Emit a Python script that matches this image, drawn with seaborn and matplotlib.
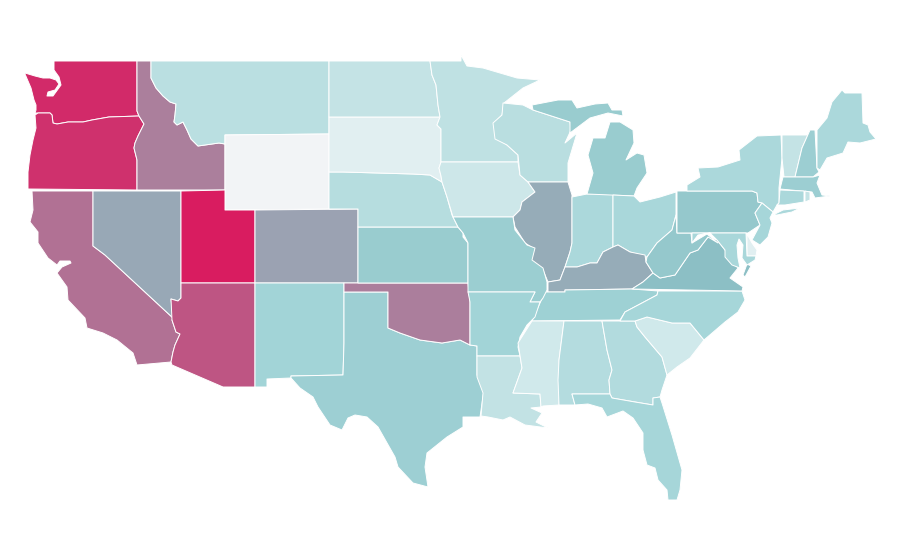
import matplotlib
matplotlib.use('Agg')
import matplotlib.pyplot as plt
from matplotlib.collections import PolyCollection
import seaborn as sns

# values per state, 0 to 1
states = ['WA','OR','ID','MT','WY','CA','NV','UT','AZ','CO','NM','TX','OK','KS','NE','SD','ND','MN','IA',
          'WI','IL','IN','MI','MIU','OH','KY','TN','MO','AR','LA','MS','AL','GA','SC','NC','FL','VA','VAE','WV',
          'PA','NY','LI','NJ','VT','NH','ME','MA','CT','RI','DE','MD']
values = [.955,.935,.70,.27,0,.74,.58,1,.825,.60,.38,.41,.705,.43,.29,.083,.23,.25,.18,
          .28,.57,.34,.43,.43,.35,.57,.40,.42,.38,.235,.167,.30,.31,.167,.36,.36,.5,.5,.45,
          .45,.34,.34,.36,.23,.415,.34,.415,.34,.23,.083,.35]
scale_colors = ['#F2F4F6', '#D8ECEE', '#BFE1E3', '#A3D5D8', '#8CC0C5', '#9F9BAD', '#B26E92', '#C64579', '#D91C60']

# state outlines, in pixels
outlines = {
 'WA': [(54,61),(137,61),(137,111),(139,116),(109,117),(92,120),(83,122),(68,122),(57,124),(53,123),(52,115),(50,113),(38,113),(35,113),(36,110),(36,105),(34,100),(31,88),(25,74),(25,73),(35,76),(43,78),(50,78),(56,80),(59,84),(55,90),(48,92),(47,96),(53,96),(61,85),(59,77),(54,70)],
 'OR': [(35,115),(38,113),(50,113),(52,115),(53,123),(57,124),(68,122),(83,122),(92,120),(109,117),(139,116),(144,124),(138,136),(135,143),(134,148),(137,160),(137,190),(28,189),(28,172),(30,155),(33,140),(36,128)],
 'ID': [(137,61),(151,61),(151,78),(156,88),(163,96),(170,102),(176,104),(175,115),(174,122),(177,125),(183,122),(187,130),(191,139),(198,146),(205,145),(219,143),(225,144),(225,190),(137,190),(137,160),(134,148),(135,143),(138,136),(144,124),(139,116),(137,111)],
 'MT': [(151,61),(329,61),(329,134),(225,135),(225,144),(219,143),(205,145),(198,146),(191,139),(187,130),(183,122),(177,125),(174,122),(175,115),(176,104),(170,102),(163,96),(156,88),(151,78)],
 'WY': [(225,135),(329,134),(329,209),(225,210)],
 'CA': [(32,191),(93,191),(93,246),(105,255),(173,318),(172,320),(176,332),(180,334),(175,345),(173,352),(171,362),(137,365),(133,353),(117,340),(103,333),(87,328),(85,318),(68,300),(67,287),(57,273),(62,267),(71,263),(70,261),(60,261),(57,265),(48,258),(38,243),(38,232),(30,222),(33,210)],
 'NV': [(93,191),(181,191),(181,298),(178,301),(171,299),(173,318),(105,255),(93,246)],
 'UT': [(181,191),(225,190),(225,210),(255,210),(255,283),(181,283)],
 'AZ': [(181,283),(255,283),(255,387),(223,387),(172,365),(171,362),(173,352),(175,345),(180,334),(176,332),(172,320),(171,299),(178,301),(181,298)],
 'CO': [(255,210),(358,209),(358,283),(255,283)],
 'NM': [(255,283),(344,283),(344,343),(343,375),(291,376),(291,378),(267,379),(267,387),(255,387)],
 'TX': [(344,292),(388,292),(388,328),(400,333),(420,340),(442,343),(460,340),(470,345),(477,346),(477,375),(484,390),(480,417),(463,417),(463,427),(447,437),(427,453),(425,467),(428,487),(413,483),(398,467),(395,457),(378,427),(367,417),(355,415),(348,418),(342,430),(330,425),(318,407),(313,397),(300,388),(291,378),(291,376),(343,375),(344,343)],
 'OK': [(344,283),(468,283),(470,302),(470,345),(460,340),(442,343),(420,340),(400,333),(388,328),(388,292),(344,292)],
 'KS': [(358,227),(458,227),(463,233),(463,237),(468,243),(468,283),(358,283)],
 'NE': [(329,172),(343,172),(413,174),(430,175),(442,182),(447,197),(452,215),(458,227),(358,227),(358,209),(329,209)],
 'SD': [(329,117),(440,117),(437,125),(441,129),(441,162),(439,168),(441,176),(442,182),(430,175),(413,174),(343,172),(329,172)],
 'ND': [(329,61),(430,61),(432,75),(436,85),(438,105),(440,117),(329,117)],
 'MN': [(430,61),(461,61),(461,55),(467,66),(483,68),(500,73),(517,78),(540,80),(523,88),(504,103),(502,115),(495,122),(497,138),(507,145),(518,155),(518,162),(441,162),(441,129),(437,125),(440,117),(438,105),(436,85),(432,75)],
 'IA': [(441,162),(518,162),(520,175),(528,182),(535,192),(522,202),(520,210),(513,217),(453,217),(447,197),(442,182),(441,176),(439,168)],
 'WI': [(503,103),(523,105),(533,110),(570,122),(571,130),(565,143),(577,133),(568,163),(568,182),(528,182),(520,175),(518,155),(507,145),(495,139),(493,123),(502,115)],
 'IL': [(528,182),(568,182),(572,195),(572,243),(570,252),(565,267),(560,280),(548,282),(543,270),(530,260),(533,248),(525,243),(515,227),(513,217),(520,210),(522,202),(535,192)],
 'IN': [(572,197),(587,194),(613,194),(613,247),(603,252),(597,263),(590,263),(577,267),(565,267),(570,252),(572,243)],
 'MI': [(587,194),(634,196),(637,188),(647,173),(644,155),(637,153),(626,160),(634,143),(633,130),(620,122),(610,122),(605,138),(593,138),(588,155),(593,173)],
 'MIU': [(532,105),(558,100),(572,100),(577,108),(595,104),(608,103),(612,110),(622,110),(623,116),(608,113),(590,118),(570,133),(570,122),(533,110)],
 'OH': [(613,195),(634,196),(640,202),(660,197),(676,192),(676,215),(672,230),(657,243),(647,257),(630,252),(618,245),(613,247)],
 'KY': [(565,267),(577,267),(590,263),(597,263),(603,252),(613,247),(618,245),(630,252),(645,255),(646,262),(653,273),(643,282),(632,289),(565,290),(565,292),(548,292),(548,282),(560,280)],
 'TN': [(545,292),(565,292),(565,290),(632,289),(658,291),(657,295),(642,303),(625,312),(620,320),(532,321),(540,303)],
 'MO': [(453,217),(513,217),(515,230),(527,245),(535,248),(532,260),(543,268),(547,282),(547,290),(543,298),(540,302),(530,302),(535,292),(468,292),(468,243),(463,233),(458,227)],
 'AR': [(468,292),(535,292),(530,302),(540,302),(535,317),(527,325),(520,337),(518,347),(520,356),(477,356),(477,346),(470,345),(470,302)],
 'LA': [(477,356),(520,356),(522,368),(513,393),(540,394),(541,407),(531,408),(542,413),(536,422),(548,428),(525,425),(510,417),(503,420),(488,417),(481,416),(483,393),(477,377)],
 'MS': [(532,321),(564,321),(559,360),(559,405),(543,406),(541,407),(540,394),(513,393),(522,368),(518,343)],
 'AL': [(564,321),(602,321),(607,350),(612,370),(609,380),(610,394),(572,394),(575,405),(559,405),(558,380),(559,360)],
 'GA': [(602,321),(635,321),(637,327),(645,337),(662,357),(667,375),(662,390),(660,397),(653,398),(653,405),(635,402),(612,398),(610,394),(609,380),(612,370),(607,350)],
 'SC': [(635,321),(647,317),(672,323),(690,323),(704,340),(690,358),(677,367),(667,375),(662,357),(645,337),(637,327)],
 'NC': [(620,321),(625,312),(642,303),(657,295),(658,291),(742,291),(745,300),(738,312),(725,322),(704,340),(690,323),(672,323),(647,317),(635,321)],
 'FL': [(572,394),(610,394),(612,398),(635,402),(653,405),(653,398),(660,397),(662,403),(672,435),(682,470),(680,490),(677,500),(668,500),(667,490),(658,480),(655,468),(647,465),(643,450),(643,433),(633,418),(623,411),(607,417),(602,408),(588,404),(575,405)],
 'VA': [(632,289),(643,282),(653,273),(660,278),(675,275),(690,253),(698,250),(708,237),(717,240),(725,250),(728,257),(738,268),(730,278),(743,287),(742,291)],
 'VAE': [(747,264),(751,266),(745,277),(743,275)],
 'WV': [(647,257),(657,243),(672,230),(676,215),(677,233),(691,233),(692,243),(707,234),(718,243),(708,237),(698,250),(690,253),(675,275),(660,278),(653,273),(646,262)],
 'PA': [(677,191),(752,191),(757,193),(758,202),(762,203),(755,213),(760,225),(748,233),(677,233)],
 'NY': [(687,191),(687,185),(700,177),(698,168),(718,167),(740,160),(739,150),(757,136),(781,135),(782,158),(779,188),(779,203),(777,205),(773,212),(762,203),(758,202),(757,193),(752,191)],
 'LI': [(773,215),(783,210),(800,208),(792,212),(777,215)],
 'NJ': [(762,203),(773,212),(770,218),(772,223),(768,237),(760,245),(752,240),(760,225),(755,213)],
 'VT': [(782,135),(808,135),(802,148),(795,177),(784,177),(782,158)],
 'NH': [(810,130),(815,130),(817,168),(819,172),(813,177),(795,177),(802,148)],
 'ME': [(817,130),(827,118),(832,102),(842,90),(845,93),(862,93),(863,123),(868,125),(870,132),(876,139),(860,143),(848,142),(843,153),(827,158),(820,170),(817,168)],
 'MA': [(783,177),(813,177),(820,175),(817,183),(822,195),(830,196),(815,198),(812,192),(780,189)],
 'CT': [(780,190),(804,191),(804,202),(785,205),(777,205),(779,203)],
 'RI': [(805,191),(810,192),(810,200),(805,202)],
 'DE': [(747,234),(752,243),(757,250),(756,256),(747,256)],
 'MD': [(692,233),(746,233),(747,256),(756,256),(755,260),(747,265),(742,258),(743,245),(739,239),(737,245),(738,258),(740,268),(732,265),(725,257),(725,250),(717,240),(710,233),(698,235),(692,243)],
}

sns.set_theme(style='white')
cmap = sns.blend_palette(scale_colors, as_cmap=True)

fig = plt.figure(figsize=(9, 5.6), dpi=100)
ax = fig.add_axes([0, 0, 1, 1])

shapes = PolyCollection([outlines[s] for s in states], array=values, cmap=cmap,
                        edgecolors='white', linewidths=0.7)
shapes.set_clim(0, 1)
ax.add_collection(shapes)

ax.set_xlim(0, 900)
ax.set_ylim(560, 0)
ax.axis('off')

fig.savefig('out.png', dpi=100, facecolor='white')
